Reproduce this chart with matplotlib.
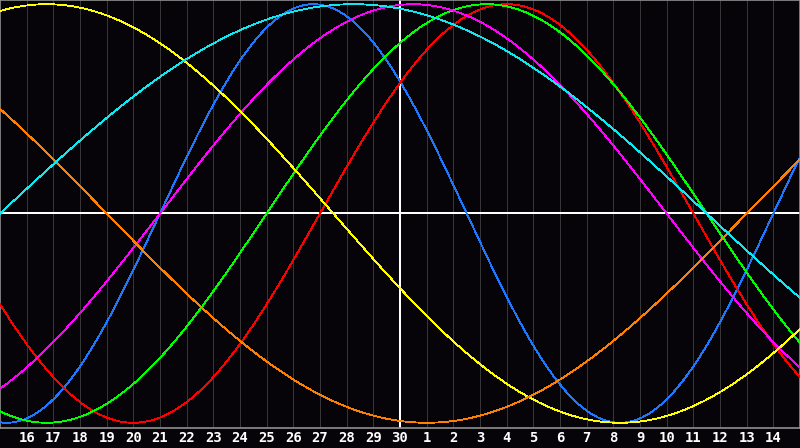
import numpy as np
import matplotlib
matplotlib.use("Agg")
import matplotlib.pyplot as plt

# day labels along the bottom (one per gridline)
day_labels = [16, 17, 18, 19, 20, 21, 22, 23, 24, 25, 26, 27, 28, 29, 30,
              1, 2, 3, 4, 5, 6, 7, 8, 9, 10, 11, 12, 13, 14]
today_idx = 14  # the "30" column, drawn in white

# cycles: length in days and the day index where each curve crosses zero going up
cycle_len = [23, 28, 33, 38, 43, 48, 53]
cycle_up = [5, 11, 9, 5, -10, 27, -1]
cycle_col = ["#1c78ff", "#ff0000", "#00ff00", "#ff00ff", "#ffff00", "#ff8000", "#10e8f0"]

bg = "#060409"

fig = plt.figure(figsize=(8, 4.48), dpi=100, facecolor=bg)
ax = fig.add_axes([0, 20 / 448, 1, 428 / 448])
ax.set_facecolor(bg)

n = len(day_labels)
ax.set_xlim(-1, n)
ax.set_ylim(-1.025, 1.02)

# vertical grid
for i in range(n):
    if i == today_idx:
        continue
    ax.axvline(i, color="#363636", lw=0.72, antialiased=False, zorder=1)

t = np.linspace(-1, n, 1500)
for per, up, col in zip(cycle_len, cycle_up, cycle_col):
    ax.plot(t, np.sin(2 * np.pi * (t - up) / per), color=col, lw=0.6,
            antialiased=False, zorder=3)

ax.axhline(0, color="white", lw=1.2, antialiased=False, zorder=2)
ax.axvline(today_idx, color="white", lw=1.2, antialiased=False, zorder=2)

for s in ax.spines.values():
    s.set_color("#909090")
    s.set_linewidth(1.2)

ax.set_xticks([])
ax.set_yticks([])

for i, d in enumerate(day_labels):
    ax.text(i, -1.075, str(d), ha="center", va="center", color="white",
            fontsize=10, fontweight="bold", family="DejaVu Sans Mono",
            clip_on=False)

fig.savefig("out.png", dpi=100, facecolor=bg)
